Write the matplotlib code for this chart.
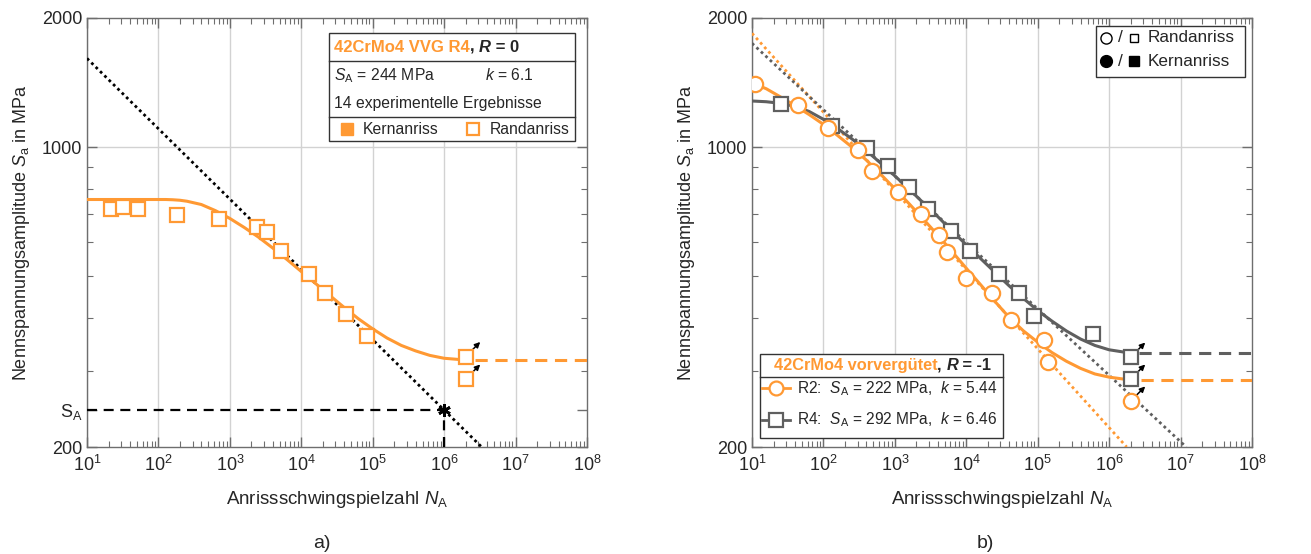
import matplotlib
matplotlib.use("Agg")
import matplotlib.pyplot as plt
import matplotlib.ticker as mticker
from matplotlib.patches import Rectangle

plt.rcParams["font.family"] = ["Liberation Sans", "DejaVu Sans"]
plt.rcParams["mathtext.fontset"] = "custom"
plt.rcParams["mathtext.rm"] = "Liberation Sans"
plt.rcParams["mathtext.it"] = "Liberation Sans:italic"
plt.rcParams["mathtext.bf"] = "Liberation Sans:bold"

ORANGE = "#FF9933"
GRAY = "#5F5F5F"
FRAME = "#6E6E6E"
GRID = "#D2D2D2"
TXT = "#262626"

# ---- a) 42CrMo4 VVG R4, R = 0 ----
left_N = [22, 32, 52, 180, 700, 2430, 3310, 5200, 12700, 21500, 41900, 82200, 2.0e6, 2.0e6]
left_S = [718, 724, 718, 695, 680, 652, 635, 574, 507, 458, 408, 363, 325, 288]
left_runout = [12, 13]
left_curve_logN = [1.0, 2.1, 2.2, 2.3, 2.4, 2.6, 2.8, 3.0, 3.2, 3.4, 3.6, 3.8, 4.0, 4.2, 4.4, 4.6,
                   4.8, 5.0, 5.2, 5.4, 5.6, 5.8, 6.0, 6.2, 6.3]
left_curve_S = [755, 755, 754, 752, 748, 735, 711, 682, 650, 617, 582, 547, 513, 481, 451, 423,
                398, 377, 359, 345, 335, 327, 322, 320, 319]
left_basquin_N = [10, 3.35e6]
left_basquin_S = [1610, 200]
left_SA, left_NA, left_k = 244, 1e6, 6.1
left_plateau = 319

# ---- b) 42CrMo4 vorvergütet, R = -1 ----
r2_N = [11, 43.6, 117, 308, 473, 1117, 2322, 4107, 5430, 10000, 22600, 41800, 122000, 141000, 2.0e6]
r2_S = [1403, 1252, 1106, 985, 881, 785, 698, 624, 570, 496, 456, 395, 356, 316, 256]
r2_runout = [14]
r2_curve_logN = [1.04, 1.2, 1.4, 1.6, 1.8, 2.0, 2.2, 2.4, 2.6, 2.8, 3.0, 3.2, 3.4, 3.6, 3.8, 4.0,
                 4.2, 4.4, 4.6, 4.8, 5.0, 5.2, 5.4, 5.6, 5.8, 6.0, 6.2, 6.3]
r2_curve_S = [1403, 1368, 1309, 1250, 1191, 1130, 1064, 1000, 933, 865, 800, 738, 679, 624, 571, 522,
              478, 437, 401, 373, 351, 332, 317, 305, 296, 291, 288, 287]
r2_basquin_N = [10, 1.76e6]
r2_basquin_S = [1842, 200]
r2_plateau = 287

r4_N = [25.5, 133, 403, 793, 1592, 2938, 6110, 11100, 29000, 55200, 88700, 589000, 2.0e6, 2.0e6]
r4_S = [1258, 1122, 997, 903, 809, 716, 639, 574, 505, 458, 405, 366, 324, 288]
r4_runout = [12, 13]
r4_curve_logN = [1.0, 1.2, 1.4, 1.6, 1.8, 2.0, 2.2, 2.4, 2.6, 2.8, 3.0, 3.2, 3.4, 3.6, 3.8, 4.0,
                 4.2, 4.4, 4.6, 4.8, 5.0, 5.2, 5.4, 5.6, 5.8, 6.0, 6.2, 6.3]
r4_curve_S = [1281, 1276, 1265, 1245, 1211, 1161, 1104, 1045, 982, 918, 857, 798, 741, 689, 638, 592,
              550, 511, 475, 444, 416, 393, 373, 357, 345, 337, 333, 332]
r4_basquin_N = [10, 1.2e7]
r4_basquin_S = [1746, 200]
r4_plateau = 332

fig = plt.figure(figsize=(13.11, 5.54), dpi=100)
axL = fig.add_axes([87 / 1311, 1 - 447 / 554, 500 / 1311, 429 / 554])
axR = fig.add_axes([752 / 1311, 1 - 447 / 554, 500 / 1311, 429 / 554])


def style_axes(ax, sa_tick=False):
    ax.set_xscale("log")
    ax.set_yscale("log")
    ax.set_xlim(10, 1e8)
    ax.set_ylim(200, 2000)
    ax.xaxis.set_major_locator(mticker.LogLocator(base=10, numticks=20))
    ax.xaxis.set_minor_locator(mticker.LogLocator(base=10, subs=range(2, 10), numticks=20))
    ax.xaxis.set_minor_formatter(mticker.NullFormatter())
    if sa_tick:
        ax.set_yticks([200, left_SA, 1000, 2000])
        ax.set_yticklabels(["200", r"S$_\mathrm{A}$", "1000", "2000"])
    else:
        ax.set_yticks([200, 1000, 2000])
        ax.set_yticklabels(["200", "1000", "2000"])
    ax.yaxis.set_minor_locator(mticker.FixedLocator([300, 400, 500, 600, 700, 800, 900]))
    ax.yaxis.set_minor_formatter(mticker.NullFormatter())
    ax.tick_params(which="both", direction="in", top=True, right=True,
                   colors=FRAME, labelcolor=TXT, labelsize=13)
    ax.tick_params(which="major", length=7, width=1)
    ax.tick_params(which="minor", length=4, width=0.8)
    ax.tick_params(axis="x", pad=6)
    for sp in ax.spines.values():
        sp.set_color(FRAME)
        sp.set_linewidth(1.0)
    for e in range(1, 8):
        ax.axvline(10 ** e, color=GRID, lw=1.0, zorder=0)
    ax.axhline(1000, color=GRID, lw=1.0, zorder=0)
    ax.set_xlabel(r"Anrissschwingspielzahl $N_\mathrm{A}$", fontsize=13.5, color=TXT, labelpad=10)
    ax.set_ylabel(r"Nennspannungsamplitude $S_\mathrm{a}$ in MPa", fontsize=13, color=TXT, labelpad=7)


def chain(ax, x, y, pieces, size):
    s, kw = pieces[0]
    t = ax.text(x, y, s, transform=ax.transAxes, fontsize=size, va="center", ha="left",
                zorder=9, **kw)
    for s, kw in pieces[1:]:
        t = ax.annotate(s, xy=(1, 0), xycoords=t, va="bottom", ha="left", fontsize=size,
                        zorder=9, **kw)
    return t


def runout_arrows(ax, N, S, idx):
    for i in idx:
        ax.annotate("", xy=(N[i], S[i]), xycoords="data",
                    xytext=(10.5, 10.5), textcoords="offset points",
                    arrowprops=dict(arrowstyle="<|-", color="black", lw=1.1,
                                    mutation_scale=8, shrinkA=0, shrinkB=5))


def from_log(vals):
    return [10 ** v for v in vals]


style_axes(axL, sa_tick=True)
style_axes(axR)

# ---------------- left panel ----------------
axL.plot(left_basquin_N, left_basquin_S, color="black", ls=(0, (1, 1.2)), lw=2.0, zorder=3)
axL.plot([10, left_NA], [left_SA, left_SA], color="black", ls=(0, (4.5, 3)), lw=1.6, zorder=3)
axL.plot([left_NA, left_NA], [200, left_SA], color="black", ls=(0, (4.5, 3)), lw=1.6, zorder=3)
axL.plot([left_NA], [left_SA], marker=(6, 2, 0), color="black", ms=9, mew=2, zorder=4)
axL.plot(from_log(left_curve_logN), left_curve_S, color=ORANGE, lw=2.2, zorder=4)
axL.plot([2.7e6, 1e8], [left_plateau, left_plateau], color=ORANGE, lw=2.2, ls=(0, (4, 2.5)), zorder=4)
axL.plot(left_N, left_S, ls="none", marker="s", ms=10.5, mfc="white", mec=ORANGE, mew=1.6, zorder=5)
runout_arrows(axL, left_N, left_S, left_runout)

# legend box a)
axL.add_patch(Rectangle((0.4846, 0.714), 0.4914, 0.25, transform=axL.transAxes,
                        fc="white", ec="#333333", lw=1.0, zorder=6))
for yy in (0.8998, 0.7685):
    axL.plot([0.4846, 0.976], [yy, yy], transform=axL.transAxes, color="#333333", lw=1.0, zorder=7)
chain(axL, 0.494, 0.932, [("42CrMo4 VVG R4", dict(color=ORANGE, fontweight="bold")),
                          (", ", dict(color=TXT, fontweight="bold")),
                          ("R", dict(color=TXT, fontweight="bold", fontstyle="italic")),
                          (" = 0", dict(color=TXT, fontweight="bold"))], 12)
axL.text(0.494, 0.866, r"$S_\mathrm{A}$ = %d MPa" % left_SA, transform=axL.transAxes,
         fontsize=11.3, va="center", ha="left", color=TXT, zorder=8)
axL.text(0.796, 0.866, r"$k$ = %.1f" % left_k, transform=axL.transAxes,
         fontsize=11.3, va="center", ha="left", color=TXT, zorder=8)
axL.text(0.494, 0.801, "%d experimentelle Ergebnisse" % len(left_N), transform=axL.transAxes,
         fontsize=11.3, va="center", ha="left", color=TXT, zorder=8)
axL.plot([0.519], [0.741], transform=axL.transAxes, marker="s", ms=9, mfc=ORANGE, mec=ORANGE,
         ls="none", zorder=8, clip_on=False)
axL.text(0.552, 0.741, "Kernanriss", transform=axL.transAxes, fontsize=11.3,
         va="center", ha="left", color=TXT, zorder=8)
axL.plot([0.772], [0.741], transform=axL.transAxes, marker="s", ms=9, mfc="white", mec=ORANGE,
         mew=1.6, ls="none", zorder=8, clip_on=False)
axL.text(0.806, 0.741, "Randanriss", transform=axL.transAxes, fontsize=11.3,
         va="center", ha="left", color=TXT, zorder=8)

# ---------------- right panel ----------------
axR.plot(r2_basquin_N, r2_basquin_S, color=ORANGE, ls=(0, (1, 1.2)), lw=2.0, zorder=3)
axR.plot(r4_basquin_N, r4_basquin_S, color=GRAY, ls=(0, (1, 1.2)), lw=2.0, zorder=3)
axR.plot(from_log(r4_curve_logN), r4_curve_S, color=GRAY, lw=2.2, zorder=4)
axR.plot(from_log(r2_curve_logN), r2_curve_S, color=ORANGE, lw=2.2, zorder=4)
axR.plot([2.6e6, 1e8], [r4_plateau, r4_plateau], color=GRAY, lw=2.2, ls=(0, (4, 2.5)), zorder=4)
axR.plot([2.8e6, 1e8], [r2_plateau, r2_plateau], color=ORANGE, lw=2.2, ls=(0, (4, 2.5)), zorder=4)
axR.plot(r4_N, r4_S, ls="none", marker="s", ms=10.5, mfc="white", mec=GRAY, mew=1.6, zorder=5)
axR.plot(r2_N, r2_S, ls="none", marker="o", ms=11, mfc="white", mec=ORANGE, mew=1.6, zorder=5)
runout_arrows(axR, r4_N, r4_S, r4_runout)
runout_arrows(axR, r2_N, r2_S, r2_runout)

# legend box (top right)
axR.add_patch(Rectangle((0.688, 0.862), 0.298, 0.119, transform=axR.transAxes,
                        fc="white", ec="#333333", lw=1.0, zorder=6))
for yy, filled, label in ((0.9534, False, "Randanriss"), (0.899, True, "Kernanriss")):
    fc = "black" if filled else "white"
    axR.plot([0.708], [yy], transform=axR.transAxes, marker="o", ms=8.5 if filled else 8,
             mfc=fc, mec="black", mew=1.0, ls="none", zorder=8, clip_on=False)
    axR.text(0.737, yy, "/", transform=axR.transAxes, fontsize=12.5, va="center", ha="center",
             color=TXT, zorder=8)
    axR.plot([0.764], [yy], transform=axR.transAxes, marker="s", ms=6.5 if filled else 6,
             mfc=fc, mec="black", mew=1.0, ls="none", zorder=8, clip_on=False)
    axR.text(0.792, yy, label, transform=axR.transAxes, fontsize=12.3, va="center", ha="left",
             color=TXT, zorder=8)

# legend box (bottom left)
axR.add_patch(Rectangle((0.016, 0.0203), 0.4866, 0.1965, transform=axR.transAxes,
                        fc="white", ec="#333333", lw=1.0, zorder=6))
axR.plot([0.016, 0.5026], [0.1639, 0.1639], transform=axR.transAxes, color="#333333", lw=1.0, zorder=7)
chain(axR, 0.043, 0.191, [("42CrMo4 vorvergütet", dict(color=ORANGE, fontweight="bold")),
                          (", ", dict(color=TXT, fontweight="bold")),
                          ("R", dict(color=TXT, fontweight="bold", fontstyle="italic")),
                          (" = -1", dict(color=TXT, fontweight="bold"))], 11.8)
rows = [(0.1368, ORANGE, "o", "R2:  $S_\\mathrm{A}$ = 222 MPa,  $k$ = 5.44"),
        (0.0636, GRAY, "s", "R4:  $S_\\mathrm{A}$ = 292 MPa,  $k$ = 6.46")]
for yy, col, mk, label in rows:
    axR.plot([0.019, 0.076], [yy, yy], transform=axR.transAxes, color=col, lw=2.0, zorder=8)
    axR.plot([0.0475], [yy], transform=axR.transAxes, marker=mk, ms=10 if mk == "o" else 9.5,
             mfc="white", mec=col, mew=1.6, ls="none", zorder=9)
    axR.text(0.09, yy, label, transform=axR.transAxes, fontsize=11.2, va="center", ha="left",
             color=TXT, zorder=9)

fig.text(322 / 1311, 1 - 543 / 554, "a)", fontsize=14, ha="center", va="center", color=TXT)
fig.text(985 / 1311, 1 - 543 / 554, "b)", fontsize=14, ha="center", va="center", color=TXT)

fig.savefig("out.png", dpi=100)
